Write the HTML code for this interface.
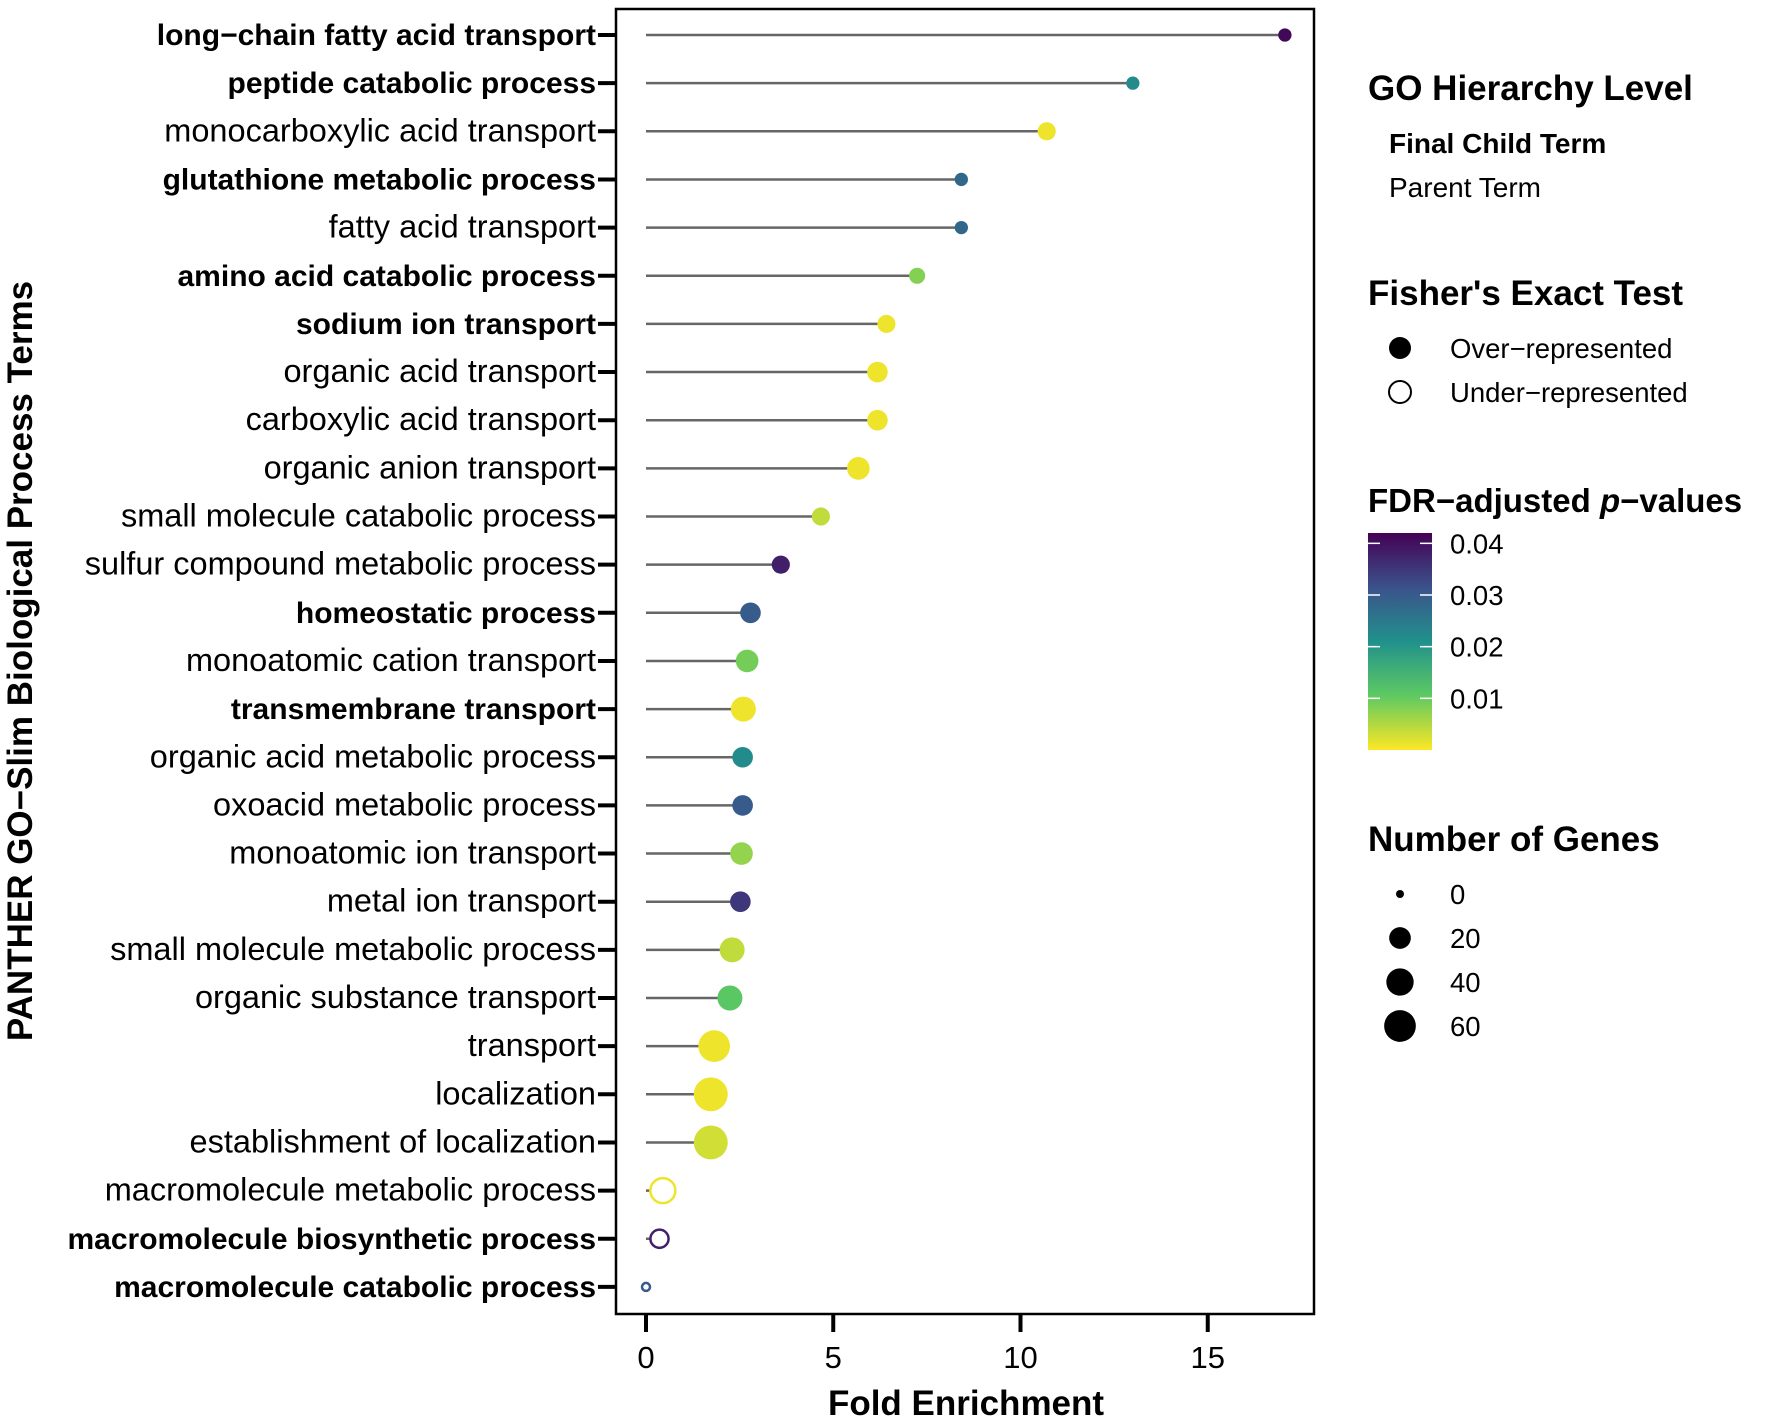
<!DOCTYPE html>
<html><head><meta charset="utf-8"><style>
body{margin:0;background:#fff}
svg{display:block;font-family:"Liberation Sans",Arial,sans-serif}
</style></head><body>
<svg id="c" width="1772" height="1422" viewBox="0 0 1772 1422">
<defs><linearGradient id="vir" x1="0" y1="1" x2="0" y2="0">
<stop offset="0" stop-color="#fde725"/><stop offset="0.25" stop-color="#5ec962"/><stop offset="0.5" stop-color="#21918c"/><stop offset="0.75" stop-color="#3b528b"/><stop offset="1" stop-color="#440154"/></linearGradient></defs>
<g id="plot"></g>
<rect x="616" y="9" width="698" height="1305" fill="none" stroke="#000" stroke-width="2.5"/>
<text x="966" y="1415" font-size="35" font-weight="bold" text-anchor="middle">Fold Enrichment</text>
<text transform="translate(32,661) rotate(-90)" font-size="35" font-weight="bold" text-anchor="middle">PANTHER GO−Slim Biological Process Terms</text>
<g>
<text x="1368" y="100" font-size="35" font-weight="bold">GO Hierarchy Level</text>
<text x="1389" y="153" font-size="28" font-weight="bold">Final Child Term</text>
<text x="1389" y="197" font-size="28">Parent Term</text>
<text x="1368" y="305" font-size="35" font-weight="bold">Fisher's Exact Test</text>
<circle cx="1400" cy="348" r="11" fill="#000"/>
<text x="1450" y="358" font-size="27.5">Over−represented</text>
<circle cx="1400" cy="392" r="11" fill="none" stroke="#000" stroke-width="2"/>
<text x="1450" y="402" font-size="27.5">Under−represented</text>
<text x="1368" y="512" font-size="33" font-weight="bold">FDR−adjusted <tspan font-style="italic">p</tspan>−values</text>
<rect x="1368" y="533" width="64" height="217" fill="url(#vir)"/>
<g id="cbt"></g>
<text x="1368" y="851" font-size="35" font-weight="bold">Number of Genes</text>
<g id="szl"></g>
</g>
</svg>
<script>
const terms=["long−chain fatty acid transport","peptide catabolic process","monocarboxylic acid transport","glutathione metabolic process","fatty acid transport","amino acid catabolic process","sodium ion transport","organic acid transport","carboxylic acid transport","organic anion transport","small molecule catabolic process","sulfur compound metabolic process","homeostatic process","monoatomic cation transport","transmembrane transport","organic acid metabolic process","oxoacid metabolic process","monoatomic ion transport","metal ion transport","small molecule metabolic process","organic substance transport","transport","localization","establishment of localization","macromolecule metabolic process","macromolecule biosynthetic process","macromolecule catabolic process"];
const foldEnrichment=[17.06,13.0,10.7,8.42,8.42,7.24,6.42,6.18,6.18,5.67,4.67,3.6,2.79,2.7,2.6,2.58,2.58,2.55,2.52,2.3,2.24,1.82,1.73,1.73,0.45,0.36,0];
const geneCounts=[3,3,11,3,3,7,11,17,17,23,11,11,17,23,31,17,17,23,17,31,31,60,72,72,31,11,0];
const fdr=[0.041,0.022,0.001,0.028,0.028,0.008,0.001,0.001,0.001,0.001,0.004,0.038,0.03,0.009,0.001,0.022,0.03,0.007,0.035,0.004,0.011,0.001,0.001,0.003,0.001,0.038,0.03];
const isBold=[1,1,0,1,0,1,1,0,0,0,0,0,1,0,1,0,0,0,0,0,0,0,0,0,0,1,1];
const overRep=[1,1,1,1,1,1,1,1,1,1,1,1,1,1,1,1,1,1,1,1,1,1,1,1,0,0,0];
const xTicks=[0,5,10,15];
const fdrTicks=[0.01,0.02,0.03,0.04];
const sizeTicks=[0,20,40,60];
const NS="http://www.w3.org/2000/svg";
const X=v=>646+v*37.45;
const Y=i=>35+i*48.15;
const R=n=>4+1.53*Math.sqrt(n);
const FDRMAX=0.042;
const stops=[[253,231,37],[94,201,98],[33,145,140],[59,82,139],[68,1,84]];
function col(p){let t=Math.max(0,Math.min(1,p/FDRMAX))*4;let i=Math.min(3,Math.floor(t)),f=t-i;const a=stops[i],b=stops[i+1];return `rgb(${a.map((v,k)=>Math.round(v+(b[k]-v)*f)).join(",")})`;}
function mk(t,a,p){const e=document.createElementNS(NS,t);for(const k in a)e.setAttribute(k,a[k]);p.appendChild(e);return e;}
const g=document.getElementById('plot');
const svg=document.getElementById('c');
terms.forEach((t,i)=>{
 const y=Y(i);
 const tk=mk('line',{x1:598,x2:616,y1:y,y2:y,stroke:'#000','stroke-width':4},svg);
 
 
 const lb=mk('text',{x:596,y:y+10,'font-size':isBold[i]?30:32.5,'text-anchor':'end','font-weight':isBold[i]?'bold':'normal'},svg);
 lb.textContent=t;
 
 
 const ln=mk('line',{x1:X(0),x2:X(foldEnrichment[i]),y1:y,y2:y,stroke:'#666','stroke-width':2.5},g);
 
 
 const c=col(fdr[i]);
 const d=mk('circle',{cx:X(foldEnrichment[i]),cy:y,r:R(geneCounts[i]),fill:overRep[i]?c:'#fff',stroke:c,'stroke-width':overRep[i]?0:2.5},g);
 
 
});
xTicks.forEach(v=>{
 const l=mk('line',{x1:X(v),x2:X(v),y1:1314,y2:1332,stroke:'#000','stroke-width':4},svg);
 
 
 const t=mk('text',{x:X(v),y:1368,'font-size':31,'text-anchor':'middle'},svg);
 t.textContent=v;
 
 
});
const cbt=document.getElementById('cbt');
fdrTicks.forEach(v=>{
 const y=750-v/FDRMAX*217;
 mk('line',{x1:1368,x2:1380,y1:y,y2:y,stroke:'#fff','stroke-width':1.5},cbt);
 mk('line',{x1:1420,x2:1432,y1:y,y2:y,stroke:'#fff','stroke-width':1.5},cbt);
 const t=mk('text',{x:1450,y:y+10,'font-size':27.5},cbt);
 t.textContent=v.toFixed(2);
 
 
});
const szl=document.getElementById('szl');
sizeTicks.forEach((v,i)=>{
 const y=894+i*44;
 const c=mk('circle',{cx:1400,cy:y,r:R(v),fill:'#000'},szl);
 
 
 const t=mk('text',{x:1450,y:y+10,'font-size':27.5},szl);
 t.textContent=v;
 
 
});
</script>
</body></html>
